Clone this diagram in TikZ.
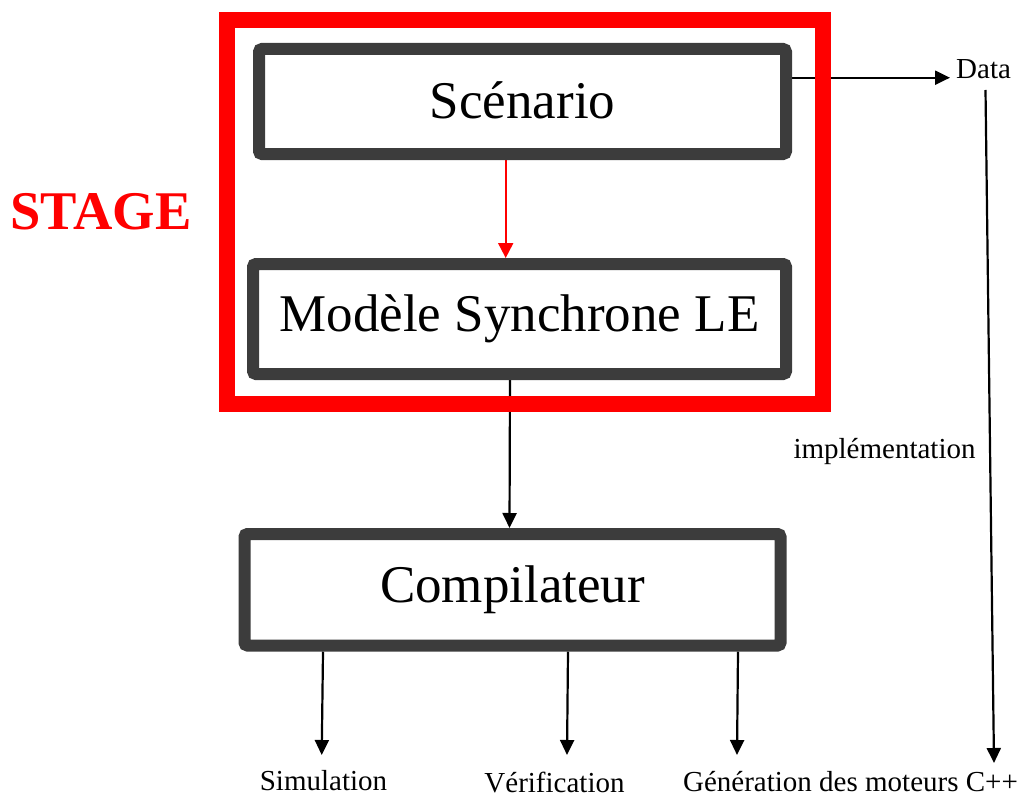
\documentclass[tikz,border=0pt]{standalone}
\usepackage{fontspec}
\setmainfont{Liberation Serif}
\usetikzlibrary{arrows.meta,backgrounds}
\definecolor{boxgray}{HTML}{3C3C3C}
\begin{document}
\begin{tikzpicture}[x=1pt,y=-1pt,
  box/.style={draw=boxgray,line width=12pt,rounded corners=3pt,inner sep=0pt,font=\fontsize{53}{60}\selectfont},
  arr/.style={line width=2.2pt,-{Triangle[length=15pt,width=14pt]}},
  redarr/.style={draw=red,line width=2pt,-{Triangle[length=15pt,width=15pt]},color=red},
  lab/.style={font=\fontsize{29}{34}\selectfont,inner sep=0pt}]
\useasboundingbox (0,0) rectangle (1022,797);
% boxes
\node[box,minimum width=527pt,minimum height=105pt] (scen) at (522.5,101.5) {\raisebox{3pt}{Scénario}};
\node[box,minimum width=533pt,minimum height=110pt] (mod) at (519.5,319) {Modèle Synchrone LE};
\node[box,minimum width=536pt,minimum height=111.5pt] (comp) at (512.5,589.75) {Compilateur};
\node[draw=red,line width=16pt,minimum width=596pt,minimum height=384pt,inner sep=0pt] (stagebox) at (525,212) {};
\node[font=\fontsize{54.5}{60}\selectfont\bfseries,text=red,anchor=base,inner sep=0pt] (stage) at (101,229) {STAGE};
% labels
\node[lab,anchor=base west,inner sep=3pt] (data) at (953,79) {Data};
\node[lab,anchor=base] (impl) at (884.5,458) {implémentation};
\node[lab,anchor=base] (sim) at (323.5,790) {Simulation};
\node[lab,anchor=base] (ver) at (554.5,792) {Vérification};
\node[lab,anchor=base] (gen) at (850.5,791) {Génération des moteurs C++};
% coordinates
\coordinate (xr) at (505.7,0);
\coordinate (xb1) at (510,0);
\coordinate (xb2) at (509.5,0);
\coordinate (dy) at (0,77.7);
\coordinate (s1) at (323,0);
\coordinate (s2) at (568,0);
\coordinate (s3) at (738,0);
\coordinate (simtip) at (321.7,755);
\coordinate (vertip) at (567,755);
\coordinate (gentip) at (737,755);
\coordinate (imptop) at (985.5,90);
\coordinate (imptip) at (994,763);
\begin{pgfonlayer}{background}
\draw[redarr] (scen.south -| xr) -- (mod.north -| xr);
\draw[arr] (mod.south -| xb1) -- (comp.north -| xb2);
\draw[arr,shorten >=3pt] (scen.east |- dy) -- (data.west |- dy);
\draw[arr] (imptop) -- (imptip);
\draw[arr] (comp.south -| s1) -- (simtip);
\draw[arr] (comp.south -| s2) -- (vertip);
\draw[arr] (comp.south -| s3) -- (gentip);
\end{pgfonlayer}
\end{tikzpicture}
\end{document}
